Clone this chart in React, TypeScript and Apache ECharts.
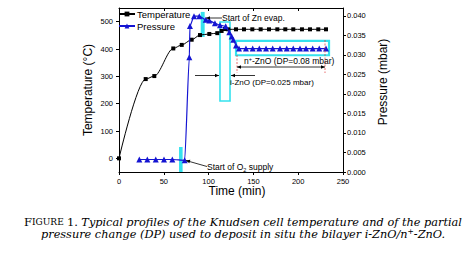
import React, { useEffect, useRef } from "react";
import * as echarts from "echarts";

const timeTemp = [0, 29.8, 39.4, 60.6, 70, 81.1, 90.4, 100.8, 109.7, 114.5, 118.3, 122, 130.6, 139.5, 148.8, 158.1, 167.4, 176.7, 185.6, 194.5, 204.2, 213.2, 222.4, 231];
const tempC = [0, 290, 301, 402, 415, 434, 451, 455, 458, 466, 473, 472, 472, 472, 472, 472, 472, 472, 472, 472, 472, 472, 472, 472];

const timePress = [22.7, 31.6, 41, 50.2, 59.5, 73.3, 78.5, 79.2, 83.7, 89.6, 96.8, 100.8, 107.1, 112.7, 119.1, 123.1, 125.8, 127.6, 130.6, 133.9, 141.7, 149.2, 156.6, 164.1, 171.5, 179.7, 187.2, 194.5, 202, 208.7, 216.2, 223.5, 231];
const pressMbar = [0.0032, 0.0032, 0.0032, 0.0032, 0.0032, 0.003, 0.0294, 0.0374, 0.0399, 0.0399, 0.039, 0.0388, 0.0381, 0.0376, 0.0373, 0.0358, 0.0347, 0.0339, 0.0324, 0.0316, 0.0316, 0.0316, 0.0316, 0.0316, 0.0316, 0.0316, 0.0316, 0.0316, 0.0316, 0.0316, 0.0316, 0.0316, 0.0316];

const xTicks = [0, 50, 100, 150, 200, 250];
const tempTicks = [0, 100, 200, 300, 400, 500];
const pressTicks = [0, 0.005, 0.01, 0.015, 0.02, 0.025, 0.03, 0.035, 0.04];

const SANS = "'Liberation Sans', Arial, sans-serif";
const NARROW = "'Liberation Sans Narrow', 'Arial Narrow', 'Liberation Sans', sans-serif";
const SERIF = "'DejaVu Serif', serif";
const CYAN = "#35e2ee";

function arrow(x1: number, y1: number, x2: number, y2: number, both = false) {
  const els: any[] = [
    { type: "line", shape: { x1, y1, x2, y2 }, style: { stroke: "#000", lineWidth: 0.8 }, z: 50 },
  ];
  const head = (ax: number, ay: number, bx: number, by: number) => {
    const ang = Math.atan2(by - ay, bx - ax);
    const L = 4, W = 1.8;
    const px = bx - L * Math.cos(ang), py = by - L * Math.sin(ang);
    return {
      type: "polygon",
      shape: {
        points: [
          [bx, by],
          [px + W * Math.sin(ang), py - W * Math.cos(ang)],
          [px - W * Math.sin(ang), py + W * Math.cos(ang)],
        ],
      },
      style: { fill: "#000" },
      z: 50,
    };
  };
  els.push(head(x1, y1, x2, y2));
  if (both) els.push(head(x2, y2, x1, y1));
  return els;
}

export default function App() {
  const ref = useRef<HTMLDivElement>(null);
  useEffect(() => {
    if (!ref.current) return;
    const chart = echarts.init(ref.current, null, { renderer: "svg" });
    const axisCommon = {
      axisLine: { show: true, onZero: false, lineStyle: { color: "#000", width: 1 } },
      splitLine: { show: false },
    };
    chart.setOption({
      animation: false,
      backgroundColor: "#fff",
      grid: { left: 119, right: 122, top: 8, bottom: 85, containLabel: false },
      legend: {
        orient: "vertical",
        left: 118,
        top: 9,
        itemWidth: 16,
        itemHeight: 6,
        itemGap: 2,
        padding: 0,
        textStyle: { fontSize: 9.5, fontFamily: SANS, color: "#000", padding: [0, 0, 0, -3] },
        data: ["Temperature", "Pressure"],
      },
      xAxis: [
        {
          type: "value", min: 0, max: 250, interval: 50, position: "bottom",
          ...axisCommon,
          axisTick: { show: true, inside: false, length: 3, customValues: xTicks },
          minorTick: { show: false },
          axisLabel: { fontSize: 7.5, fontFamily: SANS, color: "#000", margin: 5, customValues: xTicks },
        },
        {
          type: "value", min: 0, max: 250, interval: 50, position: "top",
          ...axisCommon,
          axisTick: { show: true, inside: true, length: 3, customValues: xTicks },
          axisLabel: { show: false },
        },
      ],
      yAxis: [
        {
          type: "value", min: -50, max: 550, interval: 50, position: "left",
          ...axisCommon,
          axisTick: { show: true, inside: false, length: 3, customValues: tempTicks },
          axisLabel: { fontSize: 7.5, fontFamily: SANS, color: "#000", margin: 6, customValues: tempTicks },
        },
        {
          type: "value", min: 0, max: 0.042, interval: 0.005, position: "right",
          ...axisCommon,
          axisTick: { show: true, inside: false, length: 3, customValues: pressTicks },
          axisLabel: {
            fontSize: 7.5, fontFamily: SANS, color: "#000", margin: 4, customValues: pressTicks,
            formatter: (v: number) => v.toFixed(3),
          },
        },
      ],
      series: [
        {
          name: "Temperature",
          type: "line",
          xAxisIndex: 0,
          yAxisIndex: 0,
          data: timeTemp.map((t, i) => [t, tempC[i]]),
          symbol: "rect",
          symbolSize: 4,
          smooth: 0.3,
          smoothMonotone: "x",
          itemStyle: { color: "#000" },
          lineStyle: { color: "#000", width: 1 },
          z: 3,
        },
        {
          name: "Pressure",
          type: "line",
          xAxisIndex: 0,
          yAxisIndex: 1,
          data: timePress.map((t, i) => [t, pressMbar[i]]),
          symbol: "triangle",
          symbolSize: 6,
          smooth: 0.2,
          smoothMonotone: "x",
          itemStyle: { color: "#1414d2" },
          lineStyle: { color: "#1414d2", width: 1.2 },
          z: 4,
          markArea: {
            silent: true,
            label: { show: false },
            data: [
              [{ coord: [91.2, 0.0346], itemStyle: { color: CYAN, borderWidth: 0 } }, { coord: [95.6, 0.041] }],
              [{ coord: [67, 0], itemStyle: { color: CYAN, borderWidth: 0 } }, { coord: [71, 0.0064] }],
              [{ coord: [112.7, 0.0182], itemStyle: { color: "rgba(0,0,0,0)", borderColor: CYAN, borderWidth: 1.6 } }, { coord: [123.9, 0.0384] }],
              [{ coord: [130.6, 0.0299], itemStyle: { color: "rgba(0,0,0,0)", borderColor: CYAN, borderWidth: 2.2 } }, { coord: [234.4, 0.0336] }],
            ],
          },
        },
      ],
      graphic: [
        { type: "text", x: 88, y: 90, rotation: Math.PI / 2, style: { text: "Temperature (°C)", fontSize: 12, fontFamily: SANS, fill: "#000", align: "center", verticalAlign: "middle" } },
        { type: "text", x: 383, y: 82, rotation: Math.PI / 2, style: { text: "Pressure (mbar)", fontSize: 12, fontFamily: SANS, fill: "#000", align: "center", verticalAlign: "middle" } },
        { type: "text", x: 237, y: 191, style: { text: "Time (min)", fontSize: 12, fontFamily: SANS, fill: "#000", align: "center", verticalAlign: "middle" } },
        // annotations
        { type: "text", x: 222, y: 18, z: 50, style: { text: "Start of Zn evap.", fontSize: 8.5, fontFamily: NARROW, fill: "#000", align: "left", verticalAlign: "middle" } },
        ...arrow(222, 18, 206, 18),
        {
          type: "text", x: 207, y: 167, z: 50,
          style: {
            text: "Start of O{s|2} supply", fontSize: 8.5, fontFamily: NARROW, fill: "#000", align: "left", verticalAlign: "middle",
            rich: { s: { fontSize: 5.5, fontFamily: NARROW, padding: [5, 0, 0, 0] } },
          },
        },
        ...arrow(207, 166.5, 186, 160.5),
        ...arrow(195, 75.5, 219, 75.5),
        ...arrow(255, 75.5, 231, 75.5),
        { type: "text", x: 230, y: 82, z: 50, style: { text: "i-ZnO (DP=0.025 mbar)", fontSize: 8, fontFamily: NARROW, fill: "#000", align: "left", verticalAlign: "middle" } },
        {
          type: "text", x: 244, y: 60.5, z: 50,
          style: {
            text: "n{p|+}-ZnO (DP=0.08 mbar)", fontSize: 8.5, fontFamily: NARROW, fill: "#000", align: "left", verticalAlign: "middle",
            rich: { p: { fontSize: 5.5, fontFamily: NARROW, padding: [0, 0, 4, 0] } },
          },
        },
        ...arrow(237, 67, 325, 67, true),
        { type: "line", z: 49, shape: { x1: 237, y1: 55, x2: 237, y2: 73 }, style: { stroke: "#e03030", lineWidth: 0.7, lineDash: [2, 1.5] } },
        { type: "line", z: 49, shape: { x1: 325, y1: 40, x2: 325, y2: 73 }, style: { stroke: "#e03030", lineWidth: 0.7, lineDash: [2, 1.5] } },
        // caption
        {
          type: "text", x: 243, y: 222,
          style: {
            text: "{a|F}{b|IGURE} {a|1.} {i|Typical profiles of the Knudsen cell temperature and of the partial}",
            align: "center", verticalAlign: "middle", fill: "#000",
            rich: {
              a: { fontSize: 11.5, fontFamily: SERIF, fill: "#000" },
              b: { fontSize: 9, fontFamily: SERIF, fill: "#000" },
              i: { fontSize: 11.3, fontStyle: "italic", fontFamily: SERIF, fill: "#000" },
            },
          },
        },
        {
          type: "text", x: 243, y: 234.5,
          style: {
            text: "{i|pressure change (DP) used to deposit in situ the bilayer i-ZnO/n}{s|+}{i|-ZnO.}",
            align: "center", verticalAlign: "middle", fill: "#000",
            rich: {
              i: { fontSize: 11.3, fontStyle: "italic", fontFamily: SERIF, fill: "#000" },
              s: { fontSize: 7.5, fontFamily: SERIF, fill: "#000", padding: [0, 0, 6, 0] },
            },
          },
        },
      ],
    });
    return () => chart.dispose();
  }, []);
  return <div ref={ref} style={{ width: 465, height: 257, position: "absolute", left: 0, top: 0 }} />;
}
